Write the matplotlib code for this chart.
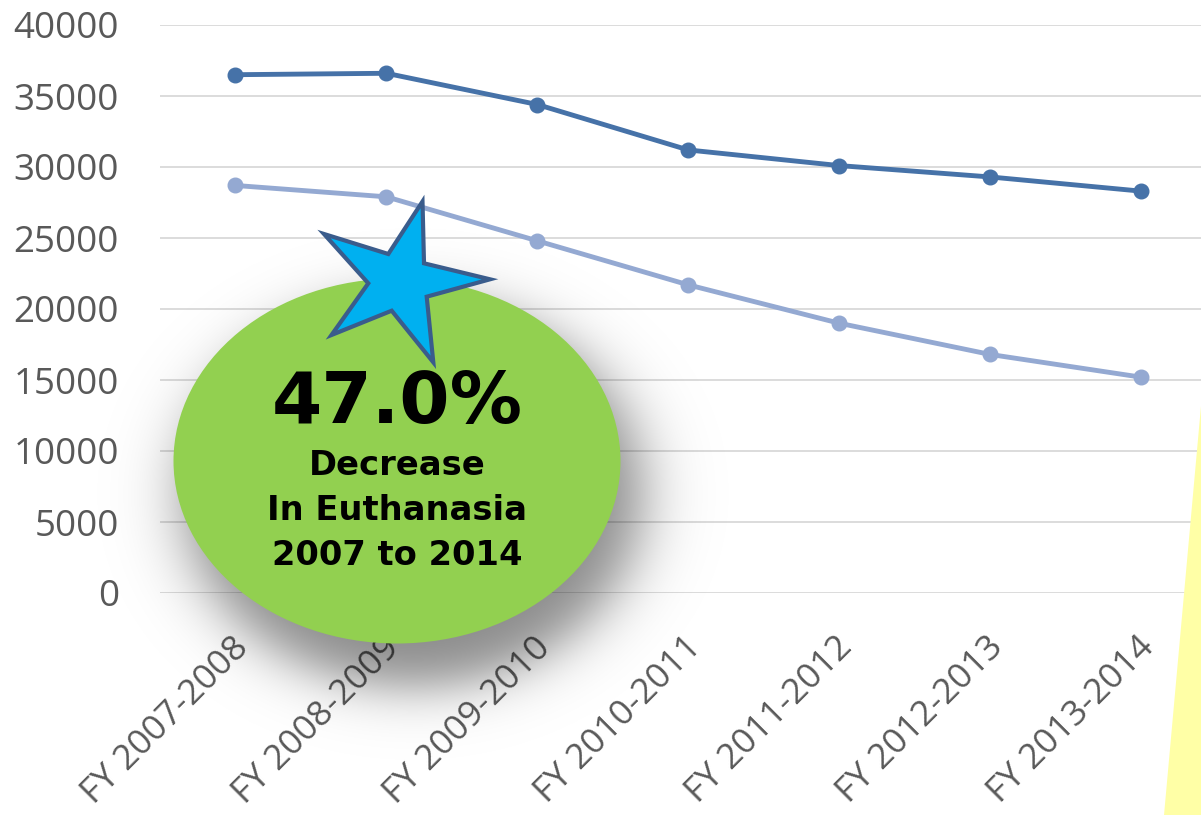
import numpy as np
import matplotlib
matplotlib.use("Agg")
import matplotlib.pyplot as plt
from matplotlib.patches import Ellipse, Polygon
from matplotlib.transforms import ScaledTranslation

# ---- data ----
categories = ["FY 2007-2008", "FY 2008-2009", "FY 2009-2010", "FY 2010-2011",
              "FY 2011-2012", "FY 2012-2013", "FY 2013-2014"]
intake = [36500, 36600, 34400, 31200, 30100, 29300, 28300]
euthanasia = [28700, 27900, 24800, 21700, 19000, 16800, 15200]
yticks = [0, 5000, 10000, 15000, 20000, 25000, 30000, 35000, 40000]
callout_big = "47.0%"
callout_lines = ["Decrease", "In Euthanasia", "2007 to 2014"]

W, H = 1201, 815
fig = plt.figure(figsize=(W / 100, H / 100), dpi=100)
fig.patch.set_facecolor("white")

ax = fig.add_axes([160 / W, (H - 593) / H, 1056.5 / W, 568 / H])
x = np.arange(len(categories))
ax.plot(x, intake, color="#4672A8", lw=3.5, marker="o", ms=10.5,
        solid_capstyle="round", solid_joinstyle="round", zorder=3)
ax.plot(x, euthanasia, color="#94A9D2", lw=3.5, marker="o", ms=10.5,
        solid_capstyle="round", solid_joinstyle="round", zorder=3)
ax.set_xlim(-0.5, len(categories) - 0.5)
ax.set_ylim(0, 40000)
ax.set_yticks(yticks)
ax.set_yticklabels([str(v) for v in yticks])
ax.set_xticks(x)
ax.set_xticklabels(categories, rotation=45, ha="right", va="top",
                   rotation_mode="anchor")
ax.yaxis.grid(True, color="#D9D9D9", lw=1.3)
ax.set_axisbelow(True)
for s in ax.spines.values():
    s.set_visible(False)
ax.tick_params(axis="both", length=0, labelcolor="#595959", labelsize=26.5)
ax.tick_params(axis="x", labelsize=25.5, pad=27)
ax.tick_params(axis="y", pad=29.5)
for lbl in ax.get_xticklabels() + ax.get_yticklabels():
    lbl.set_fontfamily("Open Sans")
for lbl in ax.get_xticklabels():
    lbl.set_transform(lbl.get_transform() +
                      ScaledTranslation(-4 / 100, 0, fig.dpi_scale_trans))

# ---- overlay (pixel coordinates) ----
ov = fig.add_axes([0, 0, 1, 1], zorder=10)
ov.set_facecolor("none")

yy, xx = np.mgrid[0:H, 0:W] + 0.5
cx, cy, a, b = 413, 494, 228, 192
r = np.sqrt(((xx - cx) / a) ** 2 + ((yy - cy) / b) ** 2)
d = (r - 1) * 210
alpha = 0.46 / (1 + np.exp(d / 17))
rgba = np.zeros((H, W, 4))
rgba[..., 3] = alpha
ov.imshow(rgba, extent=(0, W, H, 0), interpolation="bilinear", zorder=1,
          aspect="auto")

ov.add_patch(Ellipse((397, 461), 447, 365, fc="#92D050", ec="none", zorder=2))

star = [(422.5, 201.5), (424, 263.3), (490, 279.3), (426.7, 296.7),
        (433.3, 362.3), (391.7, 310.7), (331.5, 335), (368.3, 283.3),
        (324, 234), (388.3, 254)]
ov.add_patch(Polygon(star, closed=True, fc="#00B0F0", ec="#3A5C8C", lw=3.0,
                     joinstyle="miter", zorder=3))

ov.text(397, 423, callout_big, fontsize=52, fontweight="bold",
        family="DejaVu Sans", ha="center", va="baseline", color="black",
        zorder=4)
for i, t in enumerate(callout_lines):
    ov.text(397, 475 + 45 * i, t, fontsize=24.3, fontweight="bold",
            family="DejaVu Sans", ha="center", va="baseline", color="black",
            zorder=4)

ov.add_patch(Polygon([(1201, 406), (1164, 815), (1201, 815)], closed=True,
                     fc="#FFFFA6", ec="none", zorder=5))

ov.set_xlim(0, W)
ov.set_ylim(H, 0)
ov.axis("off")

fig.savefig("out.png", dpi=100)
